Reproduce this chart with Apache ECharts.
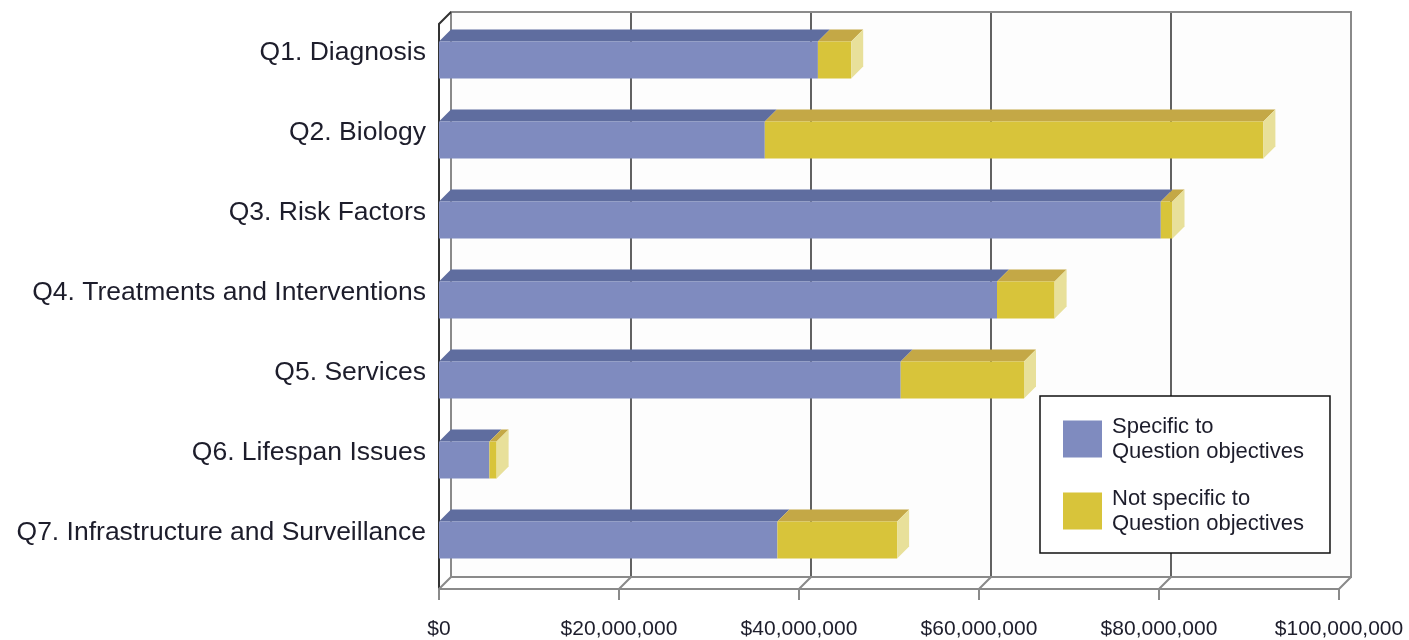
<!DOCTYPE html>
<html>
<head>
<meta charset="utf-8">
<script src="https://cdn.jsdelivr.net/npm/echarts@6/dist/echarts.min.js"></script>
<style>
html,body{margin:0;padding:0;background:#fff;}
#chart{width:1409px;height:640px;}
</style>
</head>
<body>
<div id="chart"></div>
<script>
var categories = [
  'Q1. Diagnosis',
  'Q2. Biology',
  'Q3. Risk Factors',
  'Q4. Treatments and Interventions',
  'Q5. Services',
  'Q6. Lifespan Issues',
  'Q7. Infrastructure and Surveillance'
];
var specificValues = [42100000, 36200000, 80200000, 62000000, 51300000, 5600000, 37600000];
var notSpecificValues = [3700000, 55400000, 1300000, 6400000, 13700000, 800000, 13300000];
var xTickValues = [0, 20000000, 40000000, 60000000, 80000000, 100000000];
var seriesNames = ['Specific to\nQuestion objectives', 'Not specific to\nQuestion objectives'];

var DEPTH = 12;
var BAR_H = 37;

var blueFace = {front: '#7f8bbf', top: '#5f6d9f', side: '#9aa3cc'};
var yellowFace = {front: '#d8c43a', top: '#c4a846', side: '#e8e09a'};

function barData(base, vals) {
  return vals.map(function (v, i) { return [base ? base[i] : 0, (base ? base[i] : 0) + v, i]; });
}

function makeBarRender(colors, drawSide) {
  return function (params, api) {
    var start = api.value(0), end = api.value(1), cat = api.value(2);
    var p0 = api.coord([start, cat]);
    var p1 = api.coord([end, cat]);
    var yT = p0[1] - BAR_H / 2, yB = p0[1] + BAR_H / 2;
    var x0 = p0[0], x1 = p1[0];
    var children = [
      {type: 'polygon', shape: {points: [[x0, yT], [x0 + DEPTH, yT - DEPTH], [x1 + DEPTH, yT - DEPTH], [x1, yT]]},
       style: {fill: colors.top}},
      {type: 'rect', shape: {x: x0, y: yT, width: x1 - x0, height: yB - yT}, style: {fill: colors.front}}
    ];
    if (drawSide) {
      children.push({type: 'polygon', shape: {points: [[x1, yT], [x1 + DEPTH, yT - DEPTH], [x1 + DEPTH, yB - DEPTH], [x1, yB]]},
        style: {fill: colors.side}});
    }
    return {type: 'group', children: children};
  };
}

function frameRender(params, api) {
  var cs = params.coordSys;
  var fTop = cs.y + 4, fBot = cs.y + cs.height + 9;
  var bTop = fTop - DEPTH, bBot = fBot - DEPTH;
  var xs = xTickValues.map(function (v) { return api.coord([v, 0])[0]; });
  var xL = xs[0], xR = xs[xs.length - 1];
  var frameStyle = {stroke: '#8a8a8a', lineWidth: 2, fill: null};
  var gridStyle = {stroke: '#3a3a3a', lineWidth: 1.6};
  var ch = [];
  ch.push({type: 'rect', shape: {x: xL + DEPTH, y: bTop, width: xR - xL, height: bBot - bTop}, style: {fill: '#fdfdfd'}});
  for (var i = 1; i < xs.length - 1; i++) {
    ch.push({type: 'line', shape: {x1: xs[i] + DEPTH, y1: bTop, x2: xs[i] + DEPTH, y2: bBot}, style: gridStyle});
  }
  ch.push({type: 'polyline', shape: {points: [[xL + DEPTH, bBot], [xL + DEPTH, bTop], [xR + DEPTH, bTop], [xR + DEPTH, bBot], [xL + DEPTH, bBot]]}, style: frameStyle});
  ch.push({type: 'polyline', shape: {points: [[xL + DEPTH, bTop], [xL, fTop], [xL, fBot + 11]]}, style: {stroke: '#333', lineWidth: 2, fill: null}});
  ch.push({type: 'line', shape: {x1: xL, y1: fBot, x2: xR, y2: fBot}, style: frameStyle});
  for (var j = 0; j < xs.length; j++) {
    ch.push({type: 'polyline', shape: {points: [[xs[j] + DEPTH, bBot], [xs[j], fBot], [xs[j], fBot + 11]]}, style: frameStyle});
  }
  return {type: 'group', children: ch};
}

var chart = echarts.init(document.getElementById('chart'));
chart.setOption({
  backgroundColor: '#ffffff',
  animation: false,
  textStyle: {fontFamily: 'Liberation Sans, Arial, sans-serif'},
  grid: {left: 439, right: 70, top: 20, bottom: 60, containLabel: false},
  legend: {
    orient: 'vertical',
    left: 1040,
    top: 396,
    data: [{name: seriesNames[0], icon: 'rect'}, {name: seriesNames[1], icon: 'rect'}],
    itemWidth: 39,
    itemHeight: 37,
    itemGap: 22,
    padding: [18, 26, 17, 23],
    backgroundColor: '#ffffff',
    borderColor: '#111',
    borderWidth: 1.5,
    textStyle: {fontSize: 22, lineHeight: 25, color: '#1d1d2b', fontFamily: 'Liberation Sans, Arial, sans-serif', padding: [0, 0, 0, 5]}
  },
  xAxis: {
    type: 'value',
    min: 0,
    max: 100000000,
    interval: 20000000,
    axisLine: {show: false},
    axisTick: {show: false},
    splitLine: {show: false},
    axisLabel: {
      margin: 39,
      fontSize: 21,
      color: '#1d1d2b',
      formatter: function (v) { return '$' + Number(v).toLocaleString('en-US'); }
    }
  },
  yAxis: {
    type: 'category',
    inverse: true,
    data: categories,
    axisLine: {show: false},
    axisTick: {show: false},
    splitLine: {show: false},
    axisLabel: {
      margin: 13,
      fontSize: 26.5,
      color: '#1d1d2b',
      verticalAlign: 'bottom',
      lineHeight: 14
    }
  },
  series: [
    {
      type: 'custom',
      name: 'frame',
      silent: true,
      z: 1,
      renderItem: frameRender,
      data: [[0, 0]],
      encode: {x: 0, y: 1}
    },
    {
      type: 'custom',
      name: seriesNames[0],
      z: 2,
      itemStyle: {color: blueFace.front},
      renderItem: makeBarRender(blueFace, false),
      data: barData(null, specificValues),
      encode: {x: [0, 1], y: 2}
    },
    {
      type: 'custom',
      name: seriesNames[1],
      z: 3,
      itemStyle: {color: yellowFace.front},
      renderItem: makeBarRender(yellowFace, true),
      data: barData(specificValues, notSpecificValues),
      encode: {x: [0, 1], y: 2}
    }
  ]
});
</script>
</body>
</html>
